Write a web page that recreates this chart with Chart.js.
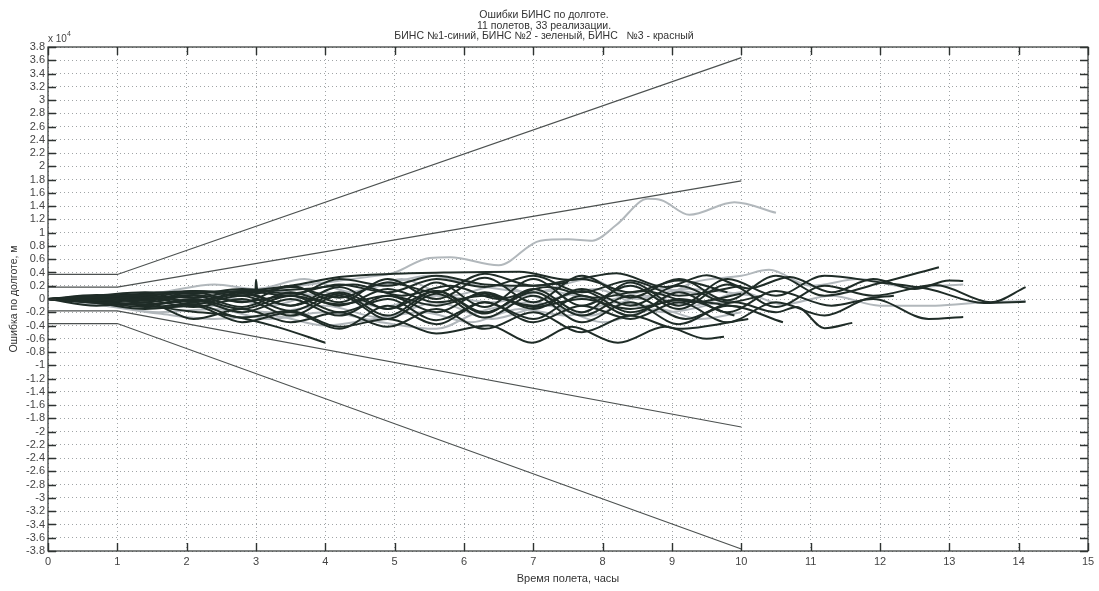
<!DOCTYPE html>
<html>
<head>
<meta charset="utf-8">
<script src="https://cdn.jsdelivr.net/npm/chart.js@4/dist/chart.umd.min.js"></script>
<style>
html,body{margin:0;padding:0;background:#fff;}
#wrap{width:1099px;height:591px;position:relative;}
</style>
</head>
<body>
<div id="wrap"><canvas id="c" width="1099" height="591"></canvas></div>
<script>
// ---- text ----
const titleLines = ["Ошибки БИНС по долготе.", "11 полетов, 33 реализации.", "БИНС №1-синий, БИНС №2 - зеленый, БИНС   №3 - красный"];
const xTitle = "Время полета, часы";
const yTitle = "Ошибка по долготе, м";
const yExponent = "4";

// ---- axes (y in units of 10^4 m) ----
const xMin = 0, xMax = 15, xStep = 1;
const yMin = -3.8, yMax = 3.8, yStep = 0.2;

// ---- error bound lines [hours, error] ----
const boundUpperOuter = [[0, 0.37], [1, 0.37], [10, 3.64]];
const boundUpperInner = [[0, 0.18], [1, 0.18], [10, 1.78]];
const boundLowerInner = [[0, -0.18], [1, -0.18], [10, -1.93]];
const boundLowerOuter = [[0, -0.37], [1, -0.37], [10, -3.77]];

// ---- realisations [hours, error] (dark = D, light = G) ----
const trace01 = [[0,0],[0.6,-0.05],[1.3,-0.08],[2.0,-0.18],[2.6,-0.25],[3.3,-0.42],[4.0,-0.66]];
const trace02 = [[0,0],[0.8,0.03],[1.6,0.05],[2.4,0.1],[3.2,0.15],[4.0,0.25],[4.6,0.33],[5.0,0.4],[5.5,0.62],[5.8,0.63],[6.5,0.51],[7.1,0.88],[7.5,0.9],[7.85,0.88],[8.2,1.12],[8.65,1.51],[8.85,1.49],[9.25,1.27],[9.9,1.46],[10.5,1.3]];
const trace03 = [[0,0],[0.7,-0.05],[1.4,-0.12],[2.1,-0.08],[2.8,-0.28],[3.5,-0.18],[4.2,-0.42],[4.9,-0.3],[5.6,-0.52],[6.35,-0.4],[6.98,-0.66],[7.55,-0.42],[8.22,-0.66],[8.9,-0.42],[9.5,-0.6],[9.75,-0.57]];
const trace04 = [[0,0],[0.7,0.03],[1.4,0.06],[2.1,0.1],[2.8,0.12],[3.5,0.2],[4.2,0.33],[5.0,0.38],[5.8,0.4],[6.8,0.41],[7.5,0.29],[8.2,0.39],[8.9,0.18],[9.5,0.36],[10.1,0.16],[10.7,0.33],[11.3,0.1],[11.9,0.3],[12.5,0.15],[13.0,0.28],[13.2,0.27]];
const trace05 = [[0,0],[0.7,-0.02],[1.4,0.05],[2.1,-0.05],[2.8,0.08],[3.5,-0.1],[4.2,0.1],[4.9,-0.15],[5.6,0.12],[6.3,-0.2],[7.0,0.1],[7.7,-0.25],[8.4,0.05],[9.2,-0.3],[9.9,-0.05],[10.5,-0.2],[10.8,-0.12],[11.2,-0.44],[11.6,-0.36]];
const trace06 = [[0,0],[0.7,0.04],[1.4,-0.02],[2.1,0.1],[2.8,-0.05],[3.5,0.2],[4.2,-0.05],[4.9,0.3],[5.6,0.0],[6.3,0.32],[7.0,-0.05],[7.7,0.35],[8.4,0.02],[9.1,0.3],[9.8,-0.02],[10.5,0.35],[11.2,0.05],[12.0,0.24],[12.85,0.48]];
const trace07 = [[0,0],[0.7,-0.06],[1.4,-0.15],[2.1,-0.1],[2.8,-0.35],[3.5,-0.2],[4.2,-0.45],[4.9,-0.1],[5.6,-0.38],[6.3,-0.05],[7.0,-0.3],[7.7,0.05],[8.4,-0.25],[9.1,0.1],[9.8,-0.2],[10.5,0.12],[11.3,-0.1],[11.9,0.0],[12.7,-0.3],[13.2,-0.27]];
const trace08 = [[0,0],[0.7,0.02],[1.4,0.06],[2.1,-0.04],[2.8,0.1],[3.5,-0.1],[4.2,0.18],[4.9,-0.15],[5.6,0.25],[6.3,-0.12],[7.0,0.3],[7.7,-0.1],[8.4,0.2],[9.1,-0.15],[9.8,0.22],[10.5,-0.12],[11.2,0.2],[11.9,0.05],[12.8,0.21],[13.6,-0.05],[14.1,0.18]];
const trace09 = [[0,0],[0.7,-0.03],[1.4,0.02],[2.1,-0.08],[2.8,0.05],[3.5,-0.18],[4.2,0.08],[4.9,-0.25],[5.6,0.12],[6.3,-0.22],[7.0,0.15],[7.7,-0.2],[8.4,0.25],[9.1,-0.1],[9.8,0.3],[10.5,0.05],[11.2,0.35],[12.0,0.25],[12.7,0.15],[13.5,-0.06],[14.1,-0.04]];
const trace10 = [[0,0],[0.8,-0.08],[1.6,-0.2],[2.4,-0.15],[3.2,-0.3],[4.0,-0.2],[4.8,-0.35],[5.6,-0.45],[6.2,-0.2],[7.0,-0.05],[7.8,-0.25],[8.6,0.05],[9.3,-0.1],[10.0,0.1],[10.6,-0.08],[11.3,0.05],[12.0,-0.1],[12.8,-0.1],[13.5,-0.05],[14.1,-0.03]];
const trace11 = [[0,0],[0.8,0.05],[1.6,0.1],[2.4,0.22],[3.0,0.15],[3.7,0.3],[4.4,0.1],[5.1,0.3],[5.8,0.05],[6.5,0.2],[7.2,0.0],[7.9,0.15],[8.6,-0.1],[9.3,0.25],[10.0,0.35],[10.4,0.44],[11.0,0.2],[11.7,0.3],[12.4,0.18],[13.2,0.22]];
const trace12 = [[0,0],[0.7,0.05],[1.4,0.1],[2.1,0.08],[2.8,0.15],[3.5,0.08],[4.2,0.22],[4.9,0.1],[5.6,0.3],[6.3,0.18],[7.0,0.35],[7.7,0.1],[8.4,0.28],[9.1,0.05],[10.0,0.2]];
const trace13 = [[0,0],[0.7,-0.1],[1.4,-0.05],[2.1,-0.3],[2.8,-0.15],[3.5,-0.35],[4.2,-0.2],[4.9,-0.42],[5.6,-0.15],[6.3,-0.45],[7.0,-0.2],[7.7,-0.5],[8.4,-0.25],[9.1,-0.45],[10.1,-0.3]];
const trace14 = [[0,0],[0.7,0.02],[1.4,-0.05],[2.1,0.05],[2.8,-0.12],[3.5,0.1],[4.2,-0.1],[4.9,0.15],[5.6,-0.05],[6.3,0.05],[7.0,-0.1],[7.7,0.12],[8.4,-0.2],[9.1,0.0],[9.9,-0.25]];
const trace15 = [[0,0],[0.8,-0.02],[1.6,0.08],[2.4,0.0],[3.2,0.12],[4.0,0.05],[4.8,0.2],[5.5,0.35],[6.2,0.2],[7.0,0.1],[7.8,0.3],[8.5,0.0],[9.2,0.15],[10.2,0.05]];
const trace16 = [[0,0],[0.7,-0.04],[1.4,-0.02],[2.1,-0.12],[2.8,0.0],[3.5,-0.25],[4.2,0.05],[4.9,-0.3],[5.6,0.08],[6.3,-0.28],[7.0,0.05],[7.7,-0.35],[8.4,-0.05],[9.1,-0.38],[9.8,-0.1],[10.6,-0.35]];
const trace17 = [[0,0],[0.7,0.0],[1.4,0.04],[2.1,0.02],[2.8,0.12],[3.5,0.05],[4.2,0.3],[4.9,0.2],[5.6,0.35],[6.3,0.22],[7.0,0.2],[7.7,0.3],[8.4,0.1],[9.1,0.28],[9.8,0.1]];
const trace18 = [[0,0],[0.8,-0.1],[1.6,-0.22],[2.4,-0.3],[3.2,-0.25],[4.0,-0.4],[4.7,-0.3],[5.4,-0.2],[6.1,-0.35],[6.8,-0.15],[7.5,-0.25],[8.2,-0.05],[8.9,-0.2],[9.9,0.0]];
const trace19 = [[0,0],[0.7,-0.05],[1.4,-0.08],[2.1,-0.02],[2.8,-0.2],[3.5,0.0],[4.2,-0.25],[4.9,0.05],[5.6,-0.2],[6.3,0.1],[7.0,-0.15],[7.7,0.15],[8.4,-0.1],[9.1,0.2],[9.8,-0.05],[10.3,0.05]];
const trace20 = [[0,0],[0.7,0.06],[1.4,0.02],[2.1,0.12],[2.8,0.05],[3.5,0.18],[4.2,0.02],[4.9,0.25],[5.6,0.1],[6.3,0.38],[7.0,0.2],[7.5,0.25]];
const trace21 = [[0,0],[0.8,-0.05],[1.6,-0.12],[2.4,-0.1],[3.2,-0.2],[4.0,-0.1],[4.8,-0.28],[5.6,-0.05],[6.4,-0.3],[7.2,-0.1],[8.0,-0.35],[8.8,-0.15],[9.4,-0.3],[10.0,-0.2]];
const trace22 = [[0,0],[0.7,0.03],[1.4,0.0],[2.1,0.06],[2.8,-0.04],[3.5,0.05],[4.2,-0.08],[4.9,0.05],[5.6,-0.1],[6.3,0.08],[7.0,-0.12],[7.7,0.0],[8.4,-0.15],[9.1,-0.02],[10.0,-0.12]];
const trace23 = [[0,0],[0.7,-0.02],[1.4,-0.1],[2.1,0.0],[2.8,-0.15],[3.5,0.05],[4.2,-0.2],[4.9,0.0],[5.6,-0.32],[6.3,-0.05],[7.0,-0.35],[7.7,-0.1],[8.4,-0.3],[9.1,-0.05],[9.8,-0.35],[10.5,-0.05],[11.2,-0.25],[11.8,0.0],[12.2,0.05]];
const trace24 = [[0,0],[0.8,0.0],[1.6,-0.08],[2.4,0.05],[3.2,-0.1],[4.0,0.1],[4.8,-0.12],[5.6,0.05],[6.4,-0.05],[7.2,0.12],[8.0,-0.02],[8.8,0.15],[9.6,0.05]];
const trace25 = [[0,0],[0.7,0.04],[1.4,0.08],[2.1,0.12],[2.99,0.1],[3.0,0.29],[3.02,0.12],[3.7,0.15],[4.4,0.22],[5.1,0.05],[5.8,0.2],[6.5,0.0],[7.2,0.18],[7.9,0.02],[8.6,0.12],[9.3,-0.05],[10.0,0.08]];

const darkTraces = [trace01, trace03, trace04, trace05, trace06, trace07, trace08, trace09, trace12, trace13, trace14, trace16, trace17, trace19, trace20, trace22, trace23, trace25];
const lightTraces = [trace02, trace10, trace11, trace15, trace18, trace21, trace24];

const DARK = "#1f2c27";
const LIGHT = "#b2b8bc";
const BOUND = "#4c5150";

function toPts(a){ return a.map(p => ({x:p[0], y:p[1]})); }

const datasets = [];
[boundUpperOuter, boundUpperInner, boundLowerInner, boundLowerOuter].forEach(b => {
  datasets.push({data: toPts(b), borderColor: BOUND, borderWidth: 1.2, pointRadius: 0, tension: 0, order: 1});
});
darkTraces.forEach(t => {
  datasets.push({data: toPts(t), borderColor: DARK, borderWidth: 2, pointRadius: 0, cubicInterpolationMode: 'monotone', order: 2});
});
lightTraces.forEach(t => {
  datasets.push({data: toPts(t), borderColor: LIGHT, borderWidth: 2, pointRadius: 0, cubicInterpolationMode: 'monotone', order: 3});
});

const FONT = "'Liberation Sans', Arial, sans-serif";

const framePlugin = {
  id: 'matlabFrame',
  afterDraw(chart) {
    const {ctx, chartArea: a, scales: {x, y}} = chart;
    ctx.save();
    ctx.strokeStyle = '#2e3331';
    ctx.lineWidth = 1.2;
    ctx.strokeRect(a.left, a.top, a.right - a.left, a.bottom - a.top);
    ctx.lineWidth = 1.4;
    y.ticks.forEach(t => {
      const py = Math.round(y.getPixelForValue(t.value)) + 0.5;
      ctx.beginPath();
      ctx.moveTo(a.left, py); ctx.lineTo(a.left + 8, py);
      ctx.moveTo(a.right, py); ctx.lineTo(a.right - 8, py);
      ctx.stroke();
    });
    x.ticks.forEach(t => {
      const px = Math.round(x.getPixelForValue(t.value)) + 0.5;
      ctx.beginPath();
      ctx.moveTo(px, a.bottom); ctx.lineTo(px, a.bottom - 8);
      ctx.moveTo(px, a.top); ctx.lineTo(px, a.top + 8);
      ctx.stroke();
    });
    // exponent label
    ctx.fillStyle = '#444';
    ctx.font = "10px " + FONT;
    ctx.textBaseline = 'middle';
    ctx.textAlign = 'left';
    ctx.fillText("x 10", a.left, a.top - 8);
    ctx.font = "7px " + FONT;
    ctx.fillText(yExponent, a.left + 19, a.top - 13);
    ctx.restore();
  }
};

new Chart(document.getElementById('c'), {
  type: 'line',
  data: {datasets},
  plugins: [framePlugin],
  options: {
    responsive: false,
    animation: false,
    events: [],
    layout: {padding: {left: 0, right: 11, top: 0, bottom: 0}},
    plugins: {
      legend: {display: false},
      tooltip: {enabled: false},
      title: {
        display: true,
        text: titleLines,
        color: '#333',
        font: {family: FONT, size: 10.5, weight: 'normal', lineHeight: 1.0},
        padding: {top: 10, bottom: 5.5}
      }
    },
    scales: {
      x: {
        type: 'linear', min: xMin, max: xMax,
        ticks: {stepSize: xStep, color: '#444', font: {family: FONT, size: 11}, padding: 4, autoSkip: false, maxRotation: 0},
        grid: {color: '#a0a4a6', lineWidth: 1, drawTicks: false},
        border: {display: false, dash: [1, 3]},
        title: {display: true, text: xTitle, color: '#333', font: {family: FONT, size: 11}, padding: {top: 0, bottom: 5}},
        afterFit: s => { s.height = 40; }
      },
      y: {
        type: 'linear', min: yMin, max: yMax,
        ticks: {stepSize: yStep, color: '#444', font: {family: FONT, size: 11}, padding: 3, autoSkip: false,
          callback: v => String(Math.round(v * 10) / 10)},
        grid: {color: '#a0a4a6', lineWidth: 1, drawTicks: false},
        border: {display: false, dash: [1, 3]},
        title: {display: true, text: yTitle, color: '#333', font: {family: FONT, size: 10.5}, padding: {top: 8, bottom: 0}},
        afterFit: s => { s.width = 48; }
      }
    }
  }
});
</script>
</body>
</html>
